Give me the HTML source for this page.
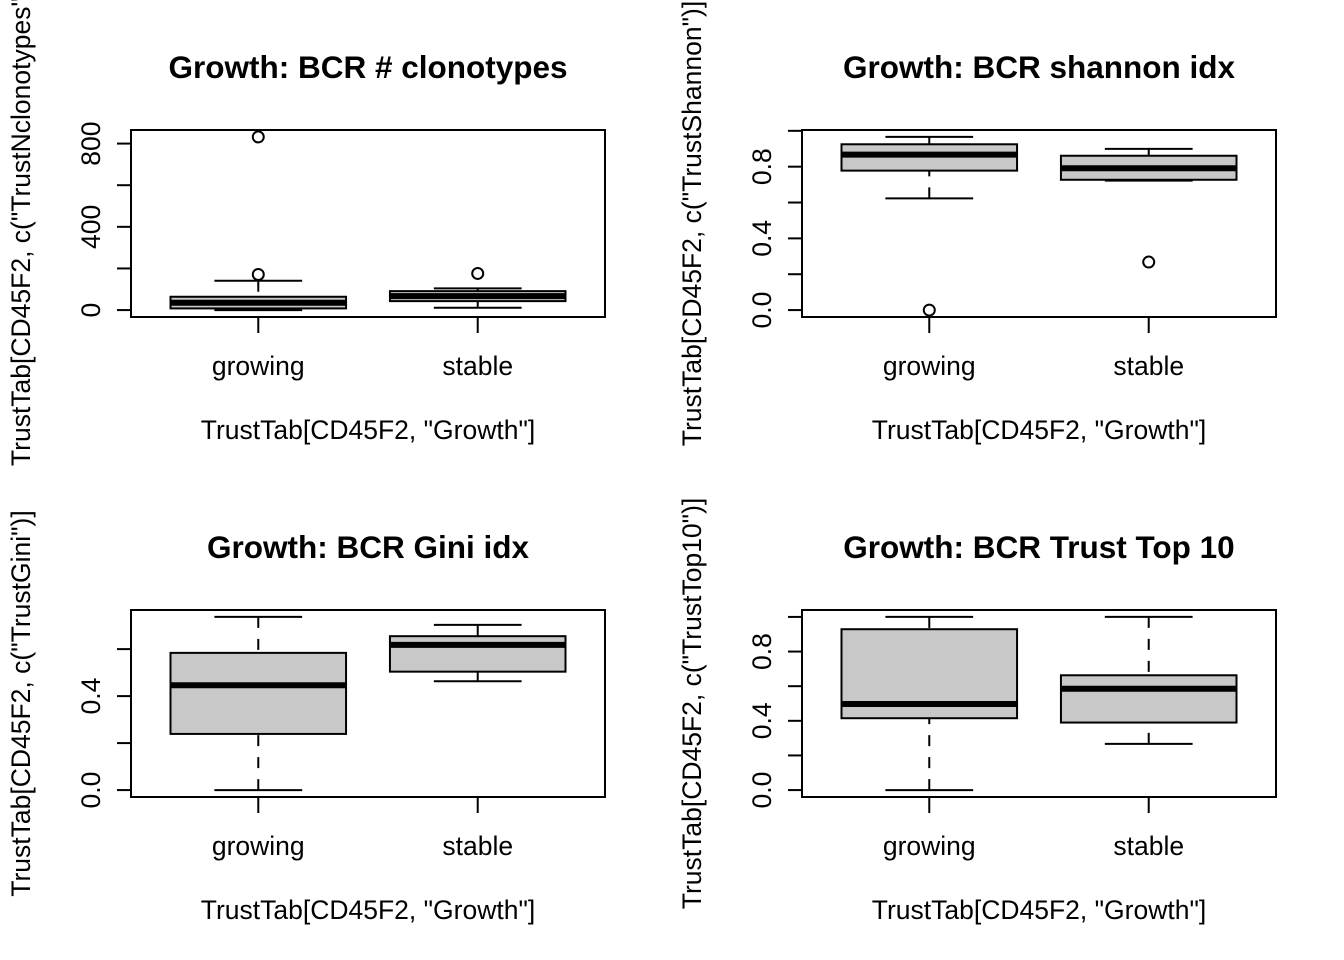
<!DOCTYPE html>
<html><head><meta charset="utf-8"><style>
html,body{margin:0;padding:0;background:#fff;}
svg{display:block;font-family:"Liberation Sans",Arial,sans-serif;}
</style></head><body>
<svg id="chart" width="1344" height="960" viewBox="0 0 1344 960" xmlns="http://www.w3.org/2000/svg"></svg>
<script>
// Panel data: [lowerWhisker, q1, median, q3, upperWhisker]
const categories = ["growing", "stable"];
const clonoStats = [[0, 8, 35, 64, 141], [11, 43, 67, 91, 104]];
const clonoOutliers = [[171, 832], [176]];
const clonoTicks = [0, 200, 400, 600, 800];
const clonoLabels = ["0", "", "400", "", "800"];
const shannonStats = [[0.623, 0.778, 0.867, 0.925, 0.966], [0.722, 0.727, 0.791, 0.861, 0.899]];
const shannonOutliers = [[0.0], [0.268]];
const shannonTicks = [0, 0.2, 0.4, 0.6, 0.8, 1.0];
const shannonLabels = ["0.0", "", "0.4", "", "0.8", ""];
const giniStats = [[0, 0.239, 0.446, 0.584, 0.737], [0.463, 0.504, 0.618, 0.655, 0.703]];
const giniOutliers = [[], []];
const giniTicks = [0, 0.2, 0.4, 0.6];
const giniLabels = ["0.0", "", "0.4", ""];
const top10Stats = [[0, 0.415, 0.497, 0.929, 1.0], [0.267, 0.39, 0.585, 0.663, 1.0]];
const top10Outliers = [[], []];
const top10Ticks = [0, 0.2, 0.4, 0.6, 0.8, 1.0];
const top10Labels = ["0.0", "", "0.4", "", "0.8", ""];

const NS = "http://www.w3.org/2000/svg";
const svg = document.getElementById("chart");
function mk(tag, attrs, parent) {
  const e = document.createElementNS(NS, tag);
  for (const k in attrs) e.setAttribute(k, attrs[k]);
  (parent || svg).appendChild(e);
  return e;
}

function panel(name, ox, oy, title, ylab, stats, outliers, ticks, labels) {
  const g = mk("g", {});
  
  
  const L = ox + 131, R = ox + 605, T = oy + 130, B = oy + 317;
  let lo = Infinity, hi = -Infinity;
  stats.forEach((s, i) => {
    lo = Math.min(lo, s[0]); hi = Math.max(hi, s[4]);
    outliers[i].forEach(v => { lo = Math.min(lo, v); hi = Math.max(hi, v); });
  });
  const pad = (hi - lo) * 0.04; lo -= pad; hi += pad;
  const y = v => B - (v - lo) / (hi - lo) * (B - T);
  const x = v => L + (v - 0.42) / 2.16 * (R - L);
  const sc = (R - L) / 2.16;

  const t = mk("text", {x: (L + R) / 2, y: oy + 78, "text-anchor": "middle", "font-size": 31.5, "font-weight": "bold"}, g);
  t.textContent = title;
  
  

  const xl = mk("text", {x: (L + R) / 2, y: oy + 439, "text-anchor": "middle", "font-size": 26.5}, g);
  xl.textContent = 'TrustTab[CD45F2, "Growth"]';
  
  

  const yl = mk("text", {x: 0, y: 0, "text-anchor": "middle", "font-size": 26.5, transform: `translate(${ox + 30},${(T + B) / 2}) rotate(-90)`}, g);
  yl.textContent = ylab;
  
  

  // y axis
  const ya = mk("g", {stroke: "#000", "stroke-width": 2}, g);
  
  
  ticks.forEach((tv, i) => {
    mk("line", {x1: L - 14, x2: L, y1: y(tv), y2: y(tv)}, ya);
    if (labels[i]) {
      const lt = mk("text", {x: 0, y: 0, "text-anchor": "middle", "font-size": 26.5, stroke: "none", fill: "#000", transform: `translate(${L - 31},${y(tv)}) rotate(-90)`}, g);
      lt.textContent = labels[i];
      
      
    }
  });

  // x axis
  const xa = mk("g", {stroke: "#000", "stroke-width": 2}, g);
  
  
  categories.forEach((c, i) => {
    mk("line", {x1: x(i + 1), x2: x(i + 1), y1: B, y2: B + 16}, xa);
    const ct = mk("text", {x: x(i + 1), y: oy + 375, "text-anchor": "middle", "font-size": 26.5}, g);
    ct.textContent = c;
    
    
  });

  // boxes
  stats.forEach((s, i) => {
    const cx = x(i + 1), hw = 0.4 * sc, sw = 0.2 * sc;
    const bg = mk("g", {stroke: "#000", "stroke-width": 2, fill: "none"}, g);
    
    
    mk("line", {x1: cx, x2: cx, y1: y(s[0]), y2: y(s[1]), "stroke-dasharray": "11,11"}, bg);
    mk("line", {x1: cx, x2: cx, y1: y(s[4]), y2: y(s[3]), "stroke-dasharray": "11,11"}, bg);
    mk("line", {x1: cx - sw, x2: cx + sw, y1: y(s[0]), y2: y(s[0])}, bg);
    mk("line", {x1: cx - sw, x2: cx + sw, y1: y(s[4]), y2: y(s[4])}, bg);
    mk("rect", {x: cx - hw, y: y(s[3]), width: 2 * hw, height: Math.max(0, y(s[1]) - y(s[3])), fill: "#c8c8c8"}, bg);
    mk("line", {x1: cx - hw, x2: cx + hw, y1: y(s[2]), y2: y(s[2]), "stroke-width": 6}, bg);
    outliers[i].forEach(v => {
      const o = mk("circle", {cx: cx, cy: y(v), r: 5.5}, bg);
      
      
    });
  });

  const fr = mk("rect", {x: L, y: T, width: R - L, height: B - T, fill: "none", stroke: "#000", "stroke-width": 2}, g);
  
  
}

panel("clonotypes", 0, 0, "Growth: BCR # clonotypes", 'TrustTab[CD45F2, c("TrustNclonotypes")]', clonoStats, clonoOutliers, clonoTicks, clonoLabels);
panel("shannon", 671, 0, "Growth: BCR shannon idx", 'TrustTab[CD45F2, c("TrustShannon")]', shannonStats, shannonOutliers, shannonTicks, shannonLabels);
panel("gini", 0, 480, "Growth: BCR Gini idx", 'TrustTab[CD45F2, c("TrustGini")]', giniStats, giniOutliers, giniTicks, giniLabels);
panel("top10", 671, 480, "Growth: BCR Trust Top 10", 'TrustTab[CD45F2, c("TrustTop10")]', top10Stats, top10Outliers, top10Ticks, top10Labels);
</script>
</body></html>
